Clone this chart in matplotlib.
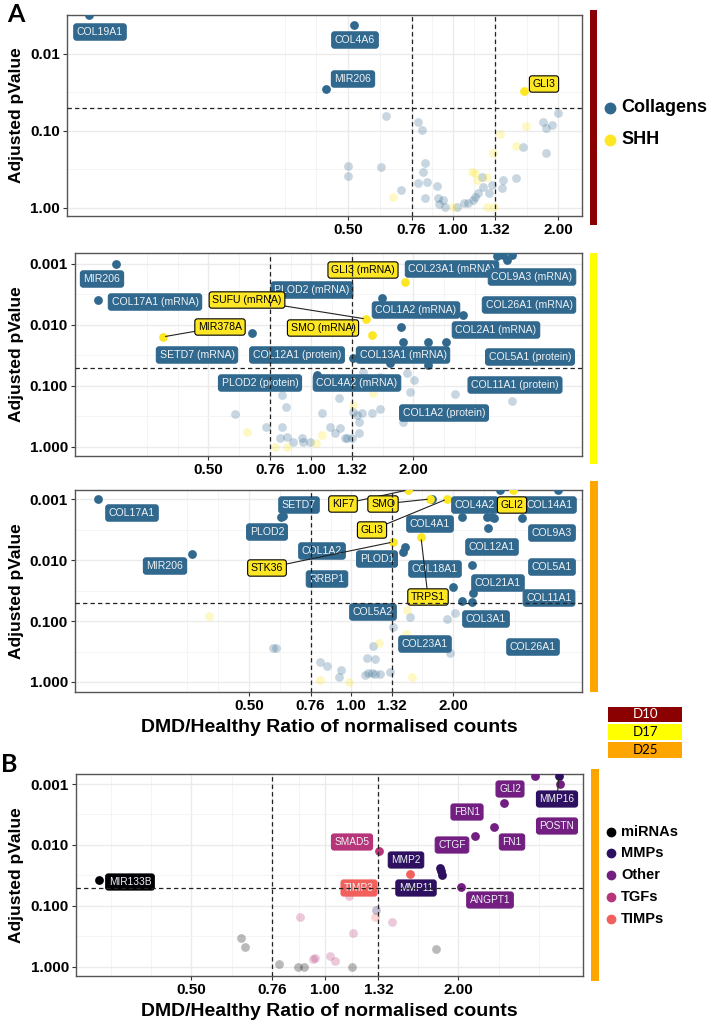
import matplotlib
matplotlib.use("Agg")
import matplotlib.pyplot as plt
from matplotlib.patches import Rectangle
from matplotlib.lines import Line2D
from matplotlib.ticker import FixedLocator, NullFormatter
import numpy as np

plt.rcParams['font.family'] = ['Liberation Sans', 'DejaVu Sans']

W, H = 709, 1023

# ------------------------------------------------------------------ data
# Panel A  (D10)
a_sig_gene = ["COL19A1", "COL4A6", "MIR206", "GLI3"]
a_sig_group = ["Collagens", "Collagens", "Collagens", "SHH"]
a_sig_ratio = [0.090, 0.520, 0.432, 1.60]
a_sig_padj = [0.0031, 0.0042, 0.0285, 0.030]
a_ns_col_ratio = [0.643, 0.794, 0.815, 0.500, 0.500, 0.622, 0.710, 0.831, 0.820, 0.794,
                  0.842, 0.831, 0.900, 0.906, 0.912, 0.936, 0.949, 1.027, 1.075, 1.104,
                  1.141, 1.156, 1.179, 1.211, 1.219, 1.294, 1.268, 1.391, 1.382, 1.516,
                  1.588, 1.811, 1.848, 1.922, 2.000, 1.848]
a_ns_col_padj = [0.064, 0.076, 0.097, 0.285, 0.384, 0.294, 0.583, 0.261, 0.340, 0.473,
                 0.459, 0.741, 0.518, 0.741, 0.887, 0.787, 0.970, 0.970, 0.861, 0.861,
                 0.787, 0.719, 0.638, 0.395, 0.533, 0.502, 0.638, 0.432, 0.550, 0.408,
                 0.161, 0.076, 0.0914, 0.0836, 0.0583, 0.193]
a_ns_shh_ratio = [0.673, 1.000, 1.134, 1.156, 1.172, 1.252, 1.302, 1.364, 1.516, 1.619, 1.252, 1.311]
a_ns_shh_padj = [0.719, 0.970, 0.340, 0.351, 0.432, 0.395, 0.193, 0.109, 0.157, 0.086, 0.970, 0.970]

# Panel D17
b_sig_gene = ["MIR206", "COL17A1 (mRNA)", "SETD7 (mRNA)", "COL12A1 (protein)", "PLOD2 (protein)",
              "PLOD2 (mRNA)", "COL26A1 (mRNA)", "COL1A2 (mRNA)", "COL2A1 (mRNA)", "COL13A1 (mRNA)",
              "COL5A1 (protein)", "COL11A1 (protein)", "COL4A2 (mRNA)", "COL23A1 (mRNA)",
              "COL9A3 (mRNA)", "COL1A2 (protein)", "",
              "MIR378A", "SUFU (mRNA)", "SMO (mRNA)", "GLI3 (mRNA)"]
b_sig_group = ["Collagens"] * 17 + ["SHH"] * 4
b_sig_ratio = [0.267, 0.237, 0.671, 1.329, 1.042, 1.616, 2.795, 1.838, 1.863, 2.206,
               2.491, 2.206, 1.706, 3.664, 3.764, 3.893, 3.52,
               0.367, 1.451, 1.511, 1.888]
b_sig_padj = [0.0010, 0.00389, 0.0135, 0.0347, 0.066, 0.0036, 0.00686, 0.0108, 0.019, 0.019,
              0.019, 0.0453, 0.042, 0.00071, 0.00086, 0.00071, 0.00074,
              0.0157, 0.00798, 0.0146, 0.00197]
b_ns_col_ratio = [0.598, 0.738, 0.822, 0.845, 0.822, 0.811, 0.850, 0.885, 0.941, 0.947,
                  0.993, 1.077, 1.137, 1.176, 1.217, 1.209, 1.276, 1.329, 1.365, 1.412,
                  1.383, 1.383, 1.511, 1.595, 1.421, 1.595, 1.914, 2.007, 1.953, 2.648,
                  3.893, 1.863, 1.259, 1.320]
b_ns_col_padj = [0.288, 0.470, 0.141, 0.221, 0.470, 0.711, 0.685, 0.828, 0.711, 0.828,
                 0.828, 0.277, 0.470, 0.589, 0.489, 0.157, 0.711, 0.267, 0.299, 0.277,
                 0.389, 0.589, 0.277, 0.238, 0.0589, 0.0711, 0.0612, 0.0798, 0.125, 0.135,
                 0.176, 0.389, 0.711, 0.711]
b_ns_shh_ratio = [0.649, 0.784, 0.850, 1.034, 1.077, 1.329, 1.521]
b_ns_shh_padj = [0.567, 1.000, 1.000, 0.859, 0.636, 0.205, 0.130]

# Panel D25
c_sig_gene = ["COL17A1", "PLOD2", "SETD7", "MIR206", "RRBP1", "COL4A2", "COL4A1", "COL23A1",
              "COL26A1", "COL12A1", "COL14A1", "COL21A1", "COL18A1", "COL3A1", "COL11A1",
              "COL5A2", "PLOD1", "COL1A2", "COL9A3", "COL5A1",
              "KIF7", "SMO", "GLI3", "STK36", "TRPS1", "GLI2"]
c_sig_group = ["Collagens"] * 20 + ["SHH"] * 6
c_sig_ratio = [0.179, 0.622, 0.630, 0.339, 1.740, 2.126, 2.520, 2.607, 2.643, 2.537,
               3.196, 2.276, 2.000, 2.291, 2.276, 2.126, 1.443, 1.424, 2.753, 4.080,
               1.473, 1.711, 1.920, 1.330, 1.609, 3.007]
c_sig_padj = [0.0010, 0.00197, 0.0019, 0.00798, 0.0010, 0.00197, 0.00197, 0.00197, 0.00205, 0.00299,
              0.00205, 0.0121, 0.0277, 0.0347, 0.0489, 0.047, 0.00612, 0.0074, 0.00071, 0.00071,
              0.00071, 0.0010, 0.0010, 0.00507, 0.0042, 0.00071]
c_ns_col_ratio = [0.589, 0.600, 0.810, 0.849, 0.934, 0.922, 1.493, 1.330, 1.161, 1.115,
                  1.177, 1.123, 1.153, 1.177, 1.218, 1.304, 1.100, 2.028, 1.920, 1.960]
c_ns_col_padj = [0.277, 0.277, 0.470, 0.547, 0.636, 0.828, 0.0859, 0.125, 0.257, 0.405,
                 0.420, 0.711, 0.711, 0.740, 0.740, 0.685, 0.767, 0.074, 0.0927, 0.335]
c_ns_shh_ratio = [0.381, 0.810, 0.986, 1.463, 1.210, 1.453, 1.514]
c_ns_shh_padj = [0.0828, 0.927, 1.000, 0.066, 0.230, 0.163, 0.828]

# Panel B (D25, other pathways)
d_sig_gene = ["MIR133B", "MMP16", "MMP2", "", "MMP11", "FBN1", "POSTN", "GLI2", "FN1",
              "CTGF", "ANGPT1", "SMAD5", "TIMP3"]
d_sig_group = ["miRNAs", "MMPs", "MMPs", "MMPs", "MMPs", "Other", "Other", "Other", "Other",
               "Other", "Other", "TGFs", "TIMPs"]
d_sig_ratio = [0.309, 3.370, 1.817, 1.826, 1.836, 2.975, 3.387, 2.533, 2.405, 2.179, 2.026, 1.324, 1.555]
d_sig_padj = [0.0375, 0.00074, 0.0238, 0.0267, 0.031, 0.00074, 0.0010, 0.00205, 0.00507, 0.00711,
              0.0489, 0.0125, 0.0299]
d_ns_group = ["miRNAs"] * 7 + ["TGFs"] * 8 + ["TIMPs", "MMPs"]
d_ns_ratio = [0.646, 0.660, 0.788, 0.869, 0.897, 1.150, 1.779,
              0.878, 0.940, 0.949, 1.026, 1.053, 1.157, 1.133, 1.416,
              1.296, 1.303]
d_ns_padj = [0.335, 0.470, 0.893, 1.000, 1.000, 1.000, 0.507,
             0.151, 0.740, 0.711, 0.661, 0.798, 0.277, 0.0685, 0.183,
             0.151, 0.116]

x_breaks = [0.50, 0.76, 1.00, 1.32, 2.00]
fc_low, fc_high, p_cut = 0.76, 1.32, 0.05

# ------------------------------------------------------------------ style
COLORS = {"Collagens": "#31688E", "SHH": "#FDE725",
          "miRNAs": "#000004", "MMPs": "#2D1160", "Other": "#721F81",
          "TGFs": "#B63679", "TIMPs": "#F1605D"}
LABEL_TEXT = {"SHH": "black"}
PT_SIZE = 40

fig = plt.figure(figsize=(W / 100, H / 100), dpi=100)


def fx(x):
    return x / W


def fy(y):
    return 1 - y / H


def rect(l, t, r, b):
    return [l / W, 1 - b / H, (r - l) / W, (b - t) / H]


def minor_breaks(major, lo, hi):
    b = list(major)
    bd = b[1] - b[0]
    if lo < b[0]:
        b = [b[0] - bd] + b
    if hi > b[-1]:
        b = b + [b[-1] + bd]
    mids = [(b[i] + b[i + 1]) / 2 for i in range(len(b) - 1)]
    allb = b + mids
    return [v for v in allb if lo <= v <= hi and min(abs(v - m) for m in major) > 1e-6]


def make_panel(px_rect, xl2, yl10, yticks, ylabs):
    ax = fig.add_axes(rect(*px_rect))
    ax.set_xscale('log', base=2)
    ax.set_yscale('log')
    ax.set_xlim(2 ** xl2[0], 2 ** xl2[1])
    ax.set_ylim(10 ** yl10[1], 10 ** yl10[0])
    ax.set_xticks(x_breaks)
    ax.set_xticklabels(["%.2f" % v for v in x_breaks], fontweight='bold', fontsize=11)
    ax.set_yticks(yticks)
    ax.set_yticklabels(ylabs, fontweight='bold', fontsize=11)
    xm = minor_breaks(list(np.log2(x_breaks)), xl2[0], xl2[1])
    ax.xaxis.set_minor_locator(FixedLocator([2 ** v for v in xm]))
    ym = minor_breaks([-3, -2, -1, 0], yl10[0], yl10[1])
    ax.yaxis.set_minor_locator(FixedLocator([10 ** v for v in ym]))
    ax.xaxis.set_minor_formatter(NullFormatter())
    ax.yaxis.set_minor_formatter(NullFormatter())
    ax.tick_params(which='major', length=3, width=0.8, color='#333333', pad=2, labelcolor='black')
    ax.tick_params(which='minor', length=0)
    ax.grid(which='major', color='#EBEBEB', lw=1.0)
    ax.grid(which='minor', color='#F3F3F3', lw=0.6)
    ax.set_axisbelow(True)
    for s in ax.spines.values():
        s.set_color('#555555')
        s.set_linewidth(1.0)
    ax.axvline(fc_low, color='#222222', lw=0.9, ls=(0, (3.5, 2.5)), zorder=5)
    ax.axvline(fc_high, color='#222222', lw=0.9, ls=(0, (3.5, 2.5)), zorder=5)
    ax.axhline(p_cut, color='#222222', lw=0.9, ls=(0, (3.5, 2.5)), zorder=5)
    return ax


def draw_points(ax, ns_sets, sig_ratio, sig_padj, sig_group):
    for grp, r, p in ns_sets:
        ax.scatter(r, p, s=PT_SIZE, color=COLORS[grp], alpha=0.27, lw=0, zorder=2)
    for grp in dict.fromkeys(sig_group):
        idx = [i for i, g in enumerate(sig_group) if g == grp]
        ax.scatter([sig_ratio[i] for i in idx], [sig_padj[i] for i in idx],
                   s=PT_SIZE, color=COLORS[grp], lw=0, zorder=3)


def draw_labels(ax, genes, groups, ratio, padj, positions, segments, fs=7.6):
    for g, grp, r, p in zip(genes, groups, ratio, padj):
        if g not in positions:
            continue
        px, py = positions[g]
        tc = LABEL_TEXT.get(grp, '#EEF2F5')
        ec = 'black' if grp == 'SHH' else COLORS[grp]
        kw = dict(textcoords='figure fraction', ha='center', va='center', fontsize=fs,
                  color=tc, zorder=4, annotation_clip=False,
                  bbox=dict(boxstyle='round,pad=0.3,rounding_size=0.25', fc=COLORS[grp],
                            ec=ec, lw=0.8))
        if g in segments:
            ax.annotate(g, xy=(r, p), xycoords='data', xytext=(fx(px), fy(py)),
                        arrowprops=dict(arrowstyle='-', color='#222222', lw=0.8,
                                        shrinkA=0, shrinkB=2), **kw)
        else:
            ax.annotate(g, xy=(fx(px), fy(py)), xycoords='figure fraction',
                        xytext=(fx(px), fy(py)), **kw)


# ------------------------------------------------------------------ panel A
ax1 = make_panel((67, 15, 582, 216), (-3.68, 1.229), (-2.506, 0.104),
                 [0.01, 0.1, 1.0], ["0.01", "0.10", "1.00"])
draw_points(ax1, [("Collagens", a_ns_col_ratio, a_ns_col_padj), ("SHH", a_ns_shh_ratio, a_ns_shh_padj)],
            a_sig_ratio, a_sig_padj, a_sig_group)
draw_labels(ax1, a_sig_gene, a_sig_group, a_sig_ratio, a_sig_padj,
            {"COL19A1": (100, 32), "COL4A6": (355, 40), "MIR206": (353, 79), "GLI3": (544, 84)}, set())

# ------------------------------------------------------------------ panel D17
ax2 = make_panel((75, 253, 582, 456), (-2.302, 2.644), (-3.18, 0.148),
                 [0.001, 0.01, 0.1, 1.0], ["0.001", "0.010", "0.100", "1.000"])
draw_points(ax2, [("Collagens", b_ns_col_ratio, b_ns_col_padj), ("SHH", b_ns_shh_ratio, b_ns_shh_padj)],
            b_sig_ratio, b_sig_padj, b_sig_group)
draw_labels(ax2, b_sig_gene, b_sig_group, b_sig_ratio, b_sig_padj, {
    "MIR206": (102, 279), "COL17A1 (mRNA)": (155, 302), "SETD7 (mRNA)": (197, 355),
    "COL12A1 (protein)": (297, 355), "PLOD2 (protein)": (260, 383), "PLOD2 (mRNA)": (312, 290),
    "COL4A2 (mRNA)": (357, 383), "COL13A1 (mRNA)": (403, 355), "COL1A2 (mRNA)": (416, 310),
    "COL23A1 (mRNA)": (452, 269), "COL9A3 (mRNA)": (532, 277), "COL26A1 (mRNA)": (529, 305),
    "COL2A1 (mRNA)": (496, 330), "COL5A1 (protein)": (530, 357), "COL11A1 (protein)": (515, 385),
    "COL1A2 (protein)": (444, 413), "MIR378A": (220, 327), "SUFU (mRNA)": (247, 300),
    "SMO (mRNA)": (323, 328), "GLI3 (mRNA)": (363, 270)},
    {"MIR378A", "SUFU (mRNA)"})

# ------------------------------------------------------------------ panel D25
ax3 = make_panel((75, 490, 582, 692), (-2.706, 2.265), (-3.148, 0.164),
                 [0.001, 0.01, 0.1, 1.0], ["0.001", "0.010", "0.100", "1.000"])
draw_points(ax3, [("Collagens", c_ns_col_ratio, c_ns_col_padj), ("SHH", c_ns_shh_ratio, c_ns_shh_padj)],
            c_sig_ratio, c_sig_padj, c_sig_group)
draw_labels(ax3, c_sig_gene, c_sig_group, c_sig_ratio, c_sig_padj, {
    "COL17A1": (132, 513), "SETD7": (299, 505), "PLOD2": (267, 532), "MIR206": (165, 566),
    "COL1A2": (322, 551), "RRBP1": (327, 579), "PLOD1": (377, 559), "COL5A2": (373, 612),
    "COL4A1": (430, 524), "COL18A1": (435, 569), "COL23A1": (425, 644), "COL4A2": (475, 505),
    "COL14A1": (550, 505), "COL9A3": (552, 533), "COL12A1": (492, 547), "COL5A1": (552, 567),
    "COL21A1": (498, 583), "COL11A1": (549, 598), "COL3A1": (486, 619), "COL26A1": (533, 647),
    "KIF7": (343, 504), "SMO": (383, 504), "GLI3": (372, 530), "STK36": (267, 568),
    "TRPS1": (428, 597), "GLI2": (512, 505)},
    {"KIF7", "SMO", "GLI3", "STK36", "TRPS1"})

# ------------------------------------------------------------------ panel B
ax4 = make_panel((76, 774, 583, 976), (-1.865, 1.933), (-3.164, 0.148),
                 [0.001, 0.01, 0.1, 1.0], ["0.001", "0.010", "0.100", "1.000"])
for grp in dict.fromkeys(d_ns_group):
    idx = [i for i, g in enumerate(d_ns_group) if g == grp]
    ax4.scatter([d_ns_ratio[i] for i in idx], [d_ns_padj[i] for i in idx], s=PT_SIZE,
                color=COLORS[grp], alpha=0.27, lw=0, zorder=2)
draw_points(ax4, [], d_sig_ratio, d_sig_padj, d_sig_group)
draw_labels(ax4, d_sig_gene, d_sig_group, d_sig_ratio, d_sig_padj, {
    "MIR133B": (130, 882), "SMAD5": (352, 842), "TIMP3": (359, 888), "MMP2": (406, 860),
    "MMP11": (416, 888), "ANGPT1": (490, 900), "CTGF": (452, 845), "FBN1": (467, 812),
    "FN1": (512, 842), "GLI2": (510, 789), "MMP16": (557, 799), "POSTN": (557, 826)},
    {"MMP16"}, fs=7.3)

# ------------------------------------------------------------------ decorations
for (l, t, r, b, c) in [(590, 10, 597, 225, '#8B0000'), (590, 253, 597, 464, '#FFFF00'),
                        (590, 481, 598, 692, '#FFA500'), (591, 769, 599, 981, '#FFA500')]:
    fig.add_artist(Rectangle((fx(l), fy(b)), (r - l) / W, (b - t) / H,
                             transform=fig.transFigure, color=c, lw=0))

# axis titles
for yc in [115.5, 354.5, 591, 875]:
    fig.text(fx(17), fy(yc), "Adjusted pValue", rotation=90, ha='center', va='center',
             fontsize=12.5, fontweight='bold')
for yc in [727, 1012]:
    fig.text(fx(329), fy(yc), "DMD/Healthy Ratio of normalised counts", ha='center', va='center',
             fontsize=14, fontweight='bold')

# panel letters
fig.text(fx(7), fy(15), "A", fontsize=18, fontweight='bold', family='Lato', ha='left', va='center')
fig.text(fx(1), fy(765), "B", fontsize=18, fontweight='bold', family='Lato', ha='left', va='center')

# legends
for name, yy in [("Collagens", 108), ("SHH", 140)]:
    fig.add_artist(Line2D([fx(610)], [fy(yy)], marker='o', ms=7.5, color=COLORS[name], lw=0,
                          transform=fig.transFigure))
    fig.text(fx(621), fy(yy), name, fontsize=13, fontweight='bold', ha='left', va='center')
for name, yy in [("miRNAs", 832), ("MMPs", 853), ("Other", 875), ("TGFs", 897), ("TIMPs", 919)]:
    fig.add_artist(Line2D([fx(611)], [fy(yy)], marker='o', ms=6, color=COLORS[name], lw=0,
                          transform=fig.transFigure))
    fig.text(fx(621), fy(yy), name, fontsize=10.5, fontweight='bold', ha='left', va='center')

for name, t, b, fc, tc in [("D10", 707, 722, '#8B0000', 'white'), ("D17", 724, 740, '#FFFF00', 'black'),
                           ("D25", 742, 758, '#FFA500', 'black')]:
    fig.add_artist(Rectangle((fx(608), fy(b)), 74 / W, (b - t) / H, transform=fig.transFigure,
                             color=fc, lw=0))
    fig.text(fx(645), fy((t + b) / 2), name, fontsize=9.5, family='Lato', color=tc,
             ha='center', va='center')

fig.savefig("out.png", dpi=100)
